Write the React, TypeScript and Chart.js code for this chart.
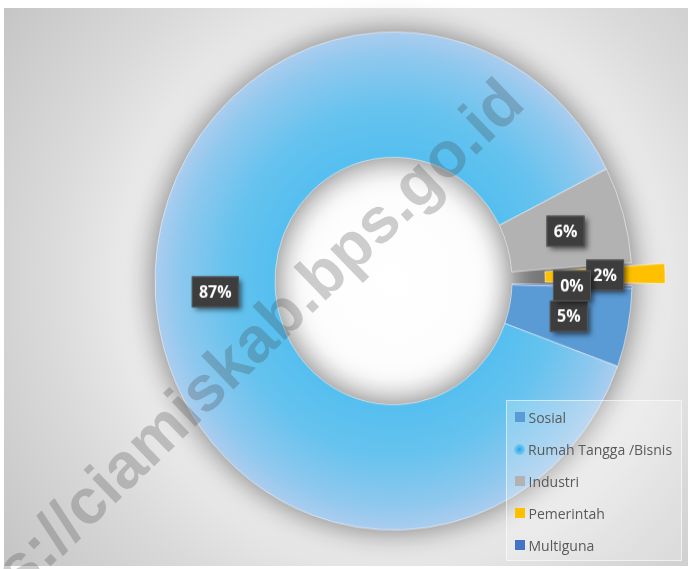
import React, { useEffect, useRef } from "react";
import { Chart, registerables } from "chart.js";

Chart.register(...registerables);

// ---- data ----
const categories = ["Sosial", "Rumah Tangga /Bisnis", "Industri", "Pemerintah", "Multiguna"];
const shares = [5.1, 87.0, 6.25, 1.51, 0.14];
const sliceColors = ["#5b9bd5", "#6cc4ee", "#b2b2b2", "#ffc000", "#4472c4"];
const explode = [0, 0, 0, 69.5, 0];
const watermarkText = "https://ciamiskab.bps.go.id";

// ---- layout / style ----
const W = 690;
const H = 569;
const STRETCH_Y = 1.044;
const CENTER_Y = 281;
const RADIUS = 238.5;
const CUTOUT = 0.497;

const total = shares.reduce((s, v) => s + v, 0);

const ringPlugin = {
  id: "ringDecor",
  beforeDatasetsDraw(chart: any) {
    const meta = chart.getDatasetMeta(0);
    const a = meta.data[0] as any;
    if (!a) return;
    const { x, y, innerRadius: ri, outerRadius: ro } = a;
    const ctx = chart.ctx as CanvasRenderingContext2D;
    ctx.save();
    const g = ctx.createRadialGradient(x, y, 0, x, y, ri);
    g.addColorStop(0, "#ffffff");
    g.addColorStop(0.8, "#fdfdfd");
    g.addColorStop(1, "#f2f2f2");
    ctx.fillStyle = g;
    ctx.beginPath();
    ctx.arc(x, y, ri + 1, 0, Math.PI * 2);
    ctx.fill();
    const far = 5000;
    ctx.shadowColor = "rgba(0,0,0,0.5)";
    ctx.shadowBlur = 30;
    ctx.shadowOffsetX = far;
    ctx.shadowOffsetY = 0;
    ctx.beginPath();
    ctx.arc(x - far, y, ro, 0, Math.PI * 2);
    ctx.arc(x - far, y, ri, 0, Math.PI * 2, true);
    ctx.fillStyle = "#000";
    ctx.fill();
    ctx.restore();
  },
  afterDatasetsDraw(chart: any) {
    const meta = chart.getDatasetMeta(0);
    const ctx = chart.ctx as CanvasRenderingContext2D;
    meta.data.forEach((arc: any, i: number) => {
      const { x, y, startAngle, endAngle, innerRadius, outerRadius, circumference } = arc;
      const off = explode[i] / 4;
      const fix = 1 - Math.sin(Math.min(Math.PI, circumference));
      const shift = off + off * fix;
      const mid = (startAngle + endAngle) / 2;
      const r = (innerRadius + outerRadius) / 2 + shift;
      const lx = x + Math.cos(mid) * r;
      const ly = y + Math.sin(mid) * r;
      const text = Math.round((shares[i] / total) * 100) + "%";
      ctx.save();
      ctx.translate(lx, ly);
      ctx.scale(1, 1 / STRETCH_Y);
      ctx.font = '700 16px "Open Sans"';
      const tw = ctx.measureText(text).width;
      const bw = Math.round(tw + 14);
      const bh = 31;
      ctx.shadowColor = "rgba(0,0,0,0.55)";
      ctx.shadowBlur = 5;
      ctx.shadowOffsetX = 3;
      ctx.shadowOffsetY = 3;
      ctx.fillStyle = "#3d3d3d";
      ctx.fillRect(-bw / 2, -bh / 2, bw, bh);
      ctx.shadowColor = "transparent";
      ctx.strokeStyle = "#585858";
      ctx.lineWidth = 1;
      ctx.strokeRect(-bw / 2 + 0.5, -bh / 2 + 0.5, bw - 1, bh - 1);
      ctx.fillStyle = "#ffffff";
      ctx.textAlign = "center";
      ctx.textBaseline = "middle";
      ctx.fillText(text, 0, 1);
      ctx.restore();
    });
  },
};

export default function App() {
  const canvasRef = useRef<HTMLCanvasElement | null>(null);
  const wmRef = useRef<HTMLCanvasElement | null>(null);

  useEffect(() => {
    const canvas = canvasRef.current;
    if (!canvas) return;
    const chart = new Chart(canvas, {
      type: "doughnut",
      data: {
        labels: categories,
        datasets: [
          {
            data: shares,
            backgroundColor: (c: any) => {
              const i = c.dataIndex;
              if (i !== 1) return sliceColors[i] ?? sliceColors[0];
              const ch = c.chart;
              const ca = ch.chartArea;
              if (!ca) return sliceColors[i];
              const cx = (ca.left + ca.right) / 2;
              const cy = (ca.top + ca.bottom) / 2;
              const g = ch.ctx.createRadialGradient(cx, cy, RADIUS * CUTOUT, cx, cy, RADIUS);
              g.addColorStop(0, "#55bff0");
              g.addColorStop(0.4, "#66c3ee");
              g.addColorStop(0.8, "#8ec8ee");
              g.addColorStop(1, "#aacdef");
              return g;
            },
            borderColor: "rgba(255,255,255,0.5)",
            borderWidth: 1,
            offset: explode,
            hoverOffset: 0,
          } as any,
        ],
      },
      options: {
        responsive: false,
        animation: false,
        rotation: 91.7,
        cutout: (CUTOUT * 100).toFixed(1) + "%",
        radius: RADIUS,
        layout: { padding: { left: 97, right: 0, top: 0, bottom: 7 } },
        plugins: { legend: { display: false }, tooltip: { enabled: false } },
        events: [],
      } as any,
      plugins: [ringPlugin],
    });

    const wm = wmRef.current;
    if (wm) {
      const ctx = wm.getContext("2d")!;
      ctx.clearRect(0, 0, W, H);
      ctx.save();
      ctx.translate(527, 106);
      ctx.rotate((-44 * Math.PI) / 180);
      ctx.font = 'bold 64px "Liberation Sans"';
      ctx.textAlign = "right";
      ctx.textBaseline = "alphabetic";
      ctx.fillStyle = "rgba(60,60,60,0.25)";
      ctx.fillText(watermarkText, 0, 0);
      ctx.restore();
    }

    return () => chart.destroy();
  }, []);

  const legendTop = 400;
  return (
    <div style={{ position: "fixed", left: 0, top: 0, width: W, height: H, background: "#ffffff", overflow: "hidden" }}>
      <div
        style={{
          position: "absolute",
          left: 4,
          top: 8,
          width: 684,
          height: 558,
          background:
            "radial-gradient(circle at 389px 273px, #ececec 0px, #eaeaea 265px, #dadada 345px, #c6c6c6 470px)",
        }}
      />
      <div
        style={{
          position: "absolute",
          left: 0,
          top: 0,
          width: W,
          height: H,
          transform: `scaleY(${STRETCH_Y})`,
          transformOrigin: `0px ${CENTER_Y}px`,
        }}
      >
        <canvas ref={canvasRef} width={W} height={H} style={{ display: "block", width: W, height: H }} />
      </div>
      <canvas
        ref={wmRef}
        width={W}
        height={H}
        style={{ position: "absolute", left: 0, top: 0, width: W, height: H, pointerEvents: "none" }}
      />
      <div
        style={{
          position: "absolute",
          left: 506,
          top: legendTop,
          width: 176,
          height: 161,
          boxSizing: "border-box",
          background: "rgba(255,255,255,0.22)",
          border: "1px solid rgba(255,255,255,0.55)",
          fontFamily: '"Open Sans", sans-serif',
          fontSize: 14,
          color: "#595959",
        }}
      >
        {categories.map((c, i) => (
          <div
            key={c}
            style={{
              position: "absolute",
              left: 7,
              top: 16 + i * 32.1 - 10,
              height: 20,
              display: "flex",
              alignItems: "center",
              whiteSpace: "nowrap",
            }}
          >
            <span
              style={
                i === 1
                  ? {
                      width: 11,
                      height: 11,
                      borderRadius: "50%",
                      marginRight: 3,
                      background:
                        "radial-gradient(circle, #2f9fe6 0%, #5cc0ef 45%, rgba(160,210,240,0.25) 100%)",
                    }
                  : { width: 10, height: 10, marginRight: 4, marginLeft: 0.5, background: sliceColors[i] }
              }
            />
            <span>{c}</span>
          </div>
        ))}
      </div>
    </div>
  );
}
